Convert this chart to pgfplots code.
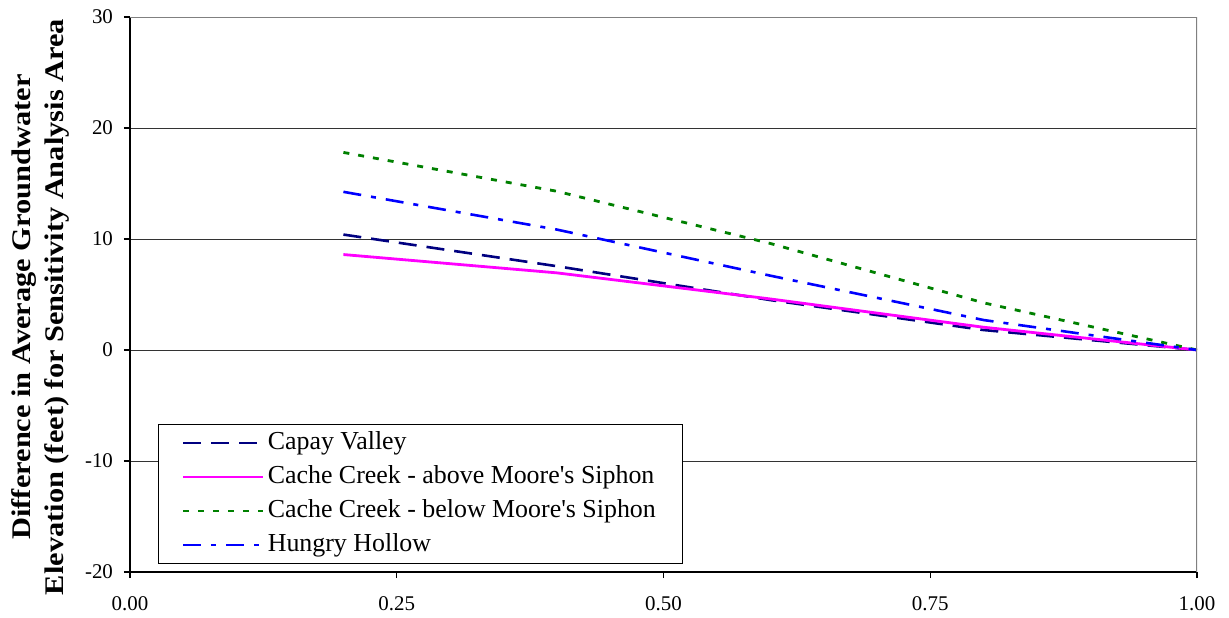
\documentclass[border=0pt]{standalone}
\usepackage{fontspec}
\setmainfont{Liberation Serif}
\newfontfamily\labelfont[FakeStretch=1.13]{Liberation Serif}
\usepackage{pgfplots}
\pgfplotsset{compat=1.18}
\definecolor{cnavy}{HTML}{000080}
\definecolor{cmag}{HTML}{FF00FF}
\definecolor{cgreen}{HTML}{008000}
\definecolor{cblue}{HTML}{0000FF}
\begin{document}
\begin{tikzpicture}
\begin{axis}[
  scale only axis, width=533.5bp, height=277.5bp,
  xmin=0, xmax=1, ymin=-20, ymax=30,
  axis x line*=bottom, axis y line*=left,
  axis line style={black, line width=0.75bp},
  xtick={0,0.25,0.5,0.75,1}, ytick={-20,-10,0,10,20,30},
  xticklabel style={/pgf/number format/fixed, /pgf/number format/fixed zerofill, /pgf/number format/precision=2, yshift=-6bp},
  ticklabel style={font=\fontsize{10.5}{12}\selectfont},
  /pgf/number format/assume math mode=true,
  yticklabel style={xshift=-2bp},
  tick align=outside, major tick length=3bp,
  tick style={black, line width=0.6bp},
  ymajorgrids, grid style={black!80, line width=0.5bp},
  ylabel={Difference in Average Groundwater\\Elevation (feet) for Sensitivity Analysis Area},
  ylabel style={at={(axis description cs:-0.0562,0.4775)}, anchor=south, inner sep=0pt, align=center, font=\labelfont\fontsize{13.5}{16.5}\selectfont\bfseries},
  legend style={at={(axis description cs:0.02578,0.0144)}, anchor=south west,
    draw=black, line width=0.5bp, fill=white, inner xsep=12bp, inner ysep=0.75bp,
    font=\fontsize{13}{15}\selectfont, row sep=0bp,
    nodes={inner xsep=1.5bp, inner ysep=2.25bp, text height=9.5bp, text depth=3bp}},
  legend cell align=left,
  legend image code/.code={\draw (0bp,0bp) -- (40bp,0bp);},
]
\addplot[cnavy, line width=1.3bp, dash pattern=on 9bp off 5bp] coordinates {(0.2,10.4) (0.4,7.55) (0.6,4.5) (0.8,1.8) (1.0,0)};
\addlegendentry{Capay Valley}
\addplot[cmag, line width=1.4bp] coordinates {(0.2,8.6) (0.4,6.95) (0.6,4.6) (0.8,2.05) (1.0,0)};
\addlegendentry{Cache Creek - above Moore\textquotesingle s Siphon}
\addplot[cgreen, line width=1.4bp, dash pattern=on 3bp off 4.5bp] coordinates {(0.2,17.8) (0.4,14.3) (0.6,9.6) (0.8,4.25) (1.0,0)};
\addlegendentry{Cache Creek - below Moore\textquotesingle s Siphon}
\addplot[cblue, line width=1.3bp, dash pattern=on 9bp off 5bp on 2.5bp off 5bp] coordinates {(0.2,14.25) (0.4,10.85) (0.6,6.7) (0.8,2.7) (1.0,0)};
\addlegendentry{Hungry Hollow}
\draw[black!50, line width=1.25bp] (rel axis cs:0,1) -- (rel axis cs:1,1) -- (rel axis cs:1,0);
\end{axis}
\pgfresetboundingbox
\path (-65bp,-23bp) rectangle (549.5bp,286bp);
\end{tikzpicture}
\end{document}
